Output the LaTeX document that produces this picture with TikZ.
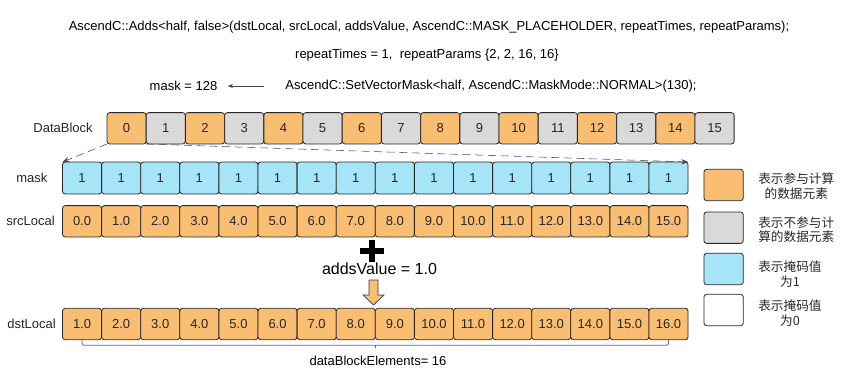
\documentclass[tikz,border=0pt]{standalone}
\usepackage{fontspec}
\setmainfont{Liberation Sans}
\newfontfamily\cjk{Noto Sans CJK SC}
\usetikzlibrary{arrows.meta}
\definecolor{cellorange}{RGB}{250,190,115}
\definecolor{cellgray}{RGB}{217,217,217}
\definecolor{cellblue}{RGB}{166,228,247}
\definecolor{arrowgray}{RGB}{70,70,70}
\definecolor{arrowline}{RGB}{45,55,85}

\begin{document}
\begin{tikzpicture}[x=0.75pt, y=-0.75pt, font=\fontsize{9.75}{12}\selectfont,
  cell/.style={draw=black!85, line width=0.6pt, rounded corners=2pt, minimum width=29.3pt,
    minimum height=23.5pt, inner sep=0pt, outer sep=0pt, text=black!85},
  rowlabel/.style={anchor=east, inner sep=0pt, text=black!85},
  legendtext/.style={font=\cjk\fontsize{9.5}{11}\selectfont, align=center, anchor=west, inner sep=0pt, text=black!85},
  maparrow/.style={arrowgray, dash pattern=on 6pt off 3.5pt, -{Stealth[length=5pt, width=4pt]}}]
\useasboundingbox (0,0) rectangle (842,372);
% the call and its parameters
\node (adds) at (429,27) {AscendC::Adds<half, false>(dstLocal, srcLocal, addsValue, AscendC::MASK\_PLACEHOLDER, repeatTimes, repeatParams);};
\node (params) at (427,55) {repeatTimes = 1,\ \ repeatParams \{2, 2, 16, 16\}};
\node (mask128) at (183.5,86) {mask = 128};
\node (setmask) at (491,86) {AscendC::SetVectorMask<half, AscendC::MaskMode::NORMAL>(130);};
\draw[arrowgray, -{Stealth[length=4pt, width=3pt]}, shorten <=12.5pt, shorten >=4.3pt] (setmask.west) -- (mask128.east);
% row labels
\node[rowlabel] (lbldb) at (93,128.3) {DataBlock};
\node[rowlabel] (lblmask) at (47.7,178) {mask};
\node[rowlabel] (lblsrc) at (55,221.3) {srcLocal};
\node[rowlabel] (lbldst) at (56,324) {dstLocal};
% data blocks: even ones take part, odd ones do not
\foreach \i/\c in {0/cellorange,1/cellgray,2/cellorange,3/cellgray,4/cellorange,5/cellgray,6/cellorange,7/cellgray,
  8/cellorange,9/cellgray,10/cellorange,11/cellgray,12/cellorange,13/cellgray,14/cellorange,15/cellgray}
  \node[cell, fill=\c] (db\i) at ({126.6+39.2*\i},128.3) {\i};
% mask bits, source and destination elements
\foreach \i in {0,...,15} {
  \node[cell, fill=cellblue, minimum height=24pt] (mk\i) at ({82.05+39.1*\i},178) {1};
  \node[cell, fill=cellorange] (src\i) at ({82.05+39.1*\i},221.3) {\i.0};
  \pgfmathtruncatemacro\v{\i+1}
  \node[cell, fill=cellorange] (dst\i) at ({82.05+39.1*\i},324) {\v.0};
}
% block 0 spreads over the whole mask
\draw[maparrow] (db0.south west) -- (mk0.north west);
\draw[maparrow] (db0.south east) -- (mk15.north east);
% plus the scalar, result goes down
\draw[line width=4.5pt] (360,251) -- (384,251) (372,240) -- (372,262);
\node[font=\fontsize{12}{14}\selectfont] (addsval) at (379.5,269) {addsValue = 1.0};
\filldraw[fill=cellorange, draw=arrowline, line width=0.5pt] (369,280) -- (378,280) -- (378,295) -- (384,295)
  -- (373.5,305) -- (363,295) -- (369,295) -- cycle;
% bracket under the result
\draw[black!60, line width=0.6pt, rounded corners=1.5pt] (dst0.south) -- ++(0,5.5) -| (dst15.south);
\draw[black!60, line width=0.6pt] (dst7.south east) ++(0,5.5) -- ++(0,3);
\node (dbelem) at (378,360.5) {dataBlockElements= 16};
% legend
\foreach \i/\c/\y in {1/cellorange/185, 2/cellgray/227.7, 3/cellblue/269, 4/white/310}
  \node[cell, fill=\c, minimum width=29.5pt] (lg\i) at (723.6,\y) {};
\node[legendtext] (lgt1) at (758,186) {表示参与计算\\的数据元素};
\node[legendtext] (lgt2) at (758,229.7) {表示不参与计\\算的数据元素};
\node[legendtext] (lgt3) at (758,274) {表示掩码值\\为1};
\node[legendtext] (lgt4) at (758,313.3) {表示掩码值\\为0};
\end{tikzpicture}
\end{document}
